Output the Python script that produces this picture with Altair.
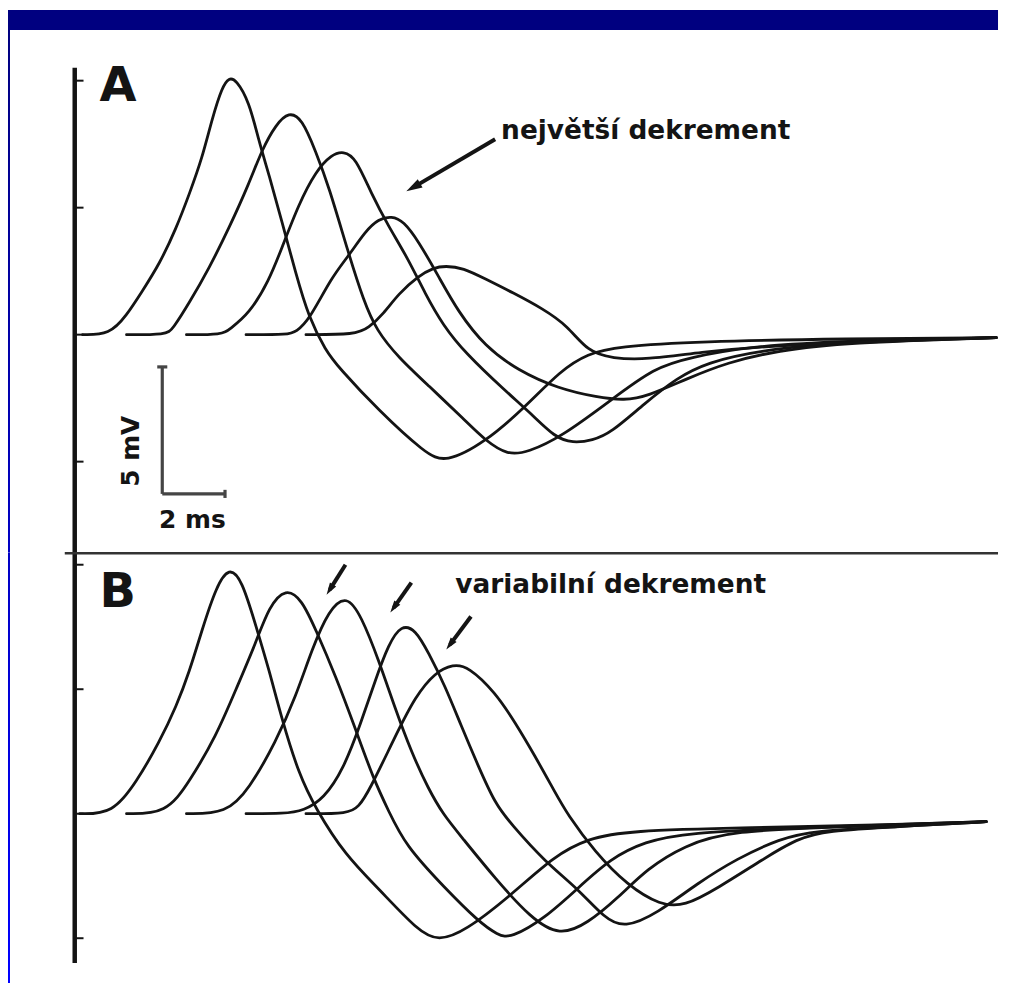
import altair as alt
import pandas as pd

# ---------------- data: time (ms) and membrane potential (mV) ----------------
# Panel A - "největší dekrement"
A1_t = [0.25, 1.11, 1.65, 2.16, 2.70, 3.24, 3.65, 4.06, 4.38, 4.70, 4.92, 5.14, 5.56, 5.87, 6.19, 6.60,
        7.05, 7.46, 8.00, 8.41, 9.68, 11.17, 11.81, 13.08, 14.35, 15.49, 16.35, 17.30, 19.84, 24.60, 29.37]
A1_v = [0, 0, 0.75, 1.73, 2.78, 4.20, 5.53, 6.94, 8.51, 9.76, 10.12, 10.04, 9.18, 7.61, 6.31, 4.47,
        2.39, 0.67, -0.63, -1.29, -2.98, -4.67, -5.06, -4.24, -2.86, -1.41, -0.75, -0.47, -0.27, -0.16, -0.12]

A2_t = [1.65, 2.92, 3.11, 3.65, 4.29, 4.92, 5.56, 5.97, 6.41, 6.83, 7.24, 7.68, 8.10, 8.73, 9.21,
        9.62, 10.32, 11.27, 12.44, 13.08, 13.81, 14.44, 15.49, 17.08, 18.48, 19.62, 21.43, 24.60, 29.37]
A2_v = [0, 0, 0.2, 1.25, 2.63, 4.20, 5.96, 7.29, 8.27, 8.78, 8.51, 7.22, 5.84, 3.18, 1.33,
        0.16, -0.90, -2.00, -3.37, -4.16, -4.75, -4.63, -4.04, -2.59, -1.29, -0.90, -0.47, -0.24, -0.12]

A3_t = [3.56, 4.70, 4.92, 5.56, 6.19, 6.60, 7.14, 7.68, 8.19, 8.57, 8.95, 9.46, 10.00, 10.63, 11.17,
        11.75, 12.44, 13.71, 14.54, 15.30, 15.87, 16.51, 17.08, 18.16, 19.21, 20.16, 21.75, 24.60, 29.37]
A3_v = [0, 0, 0.2, 0.82, 2.12, 3.41, 5.14, 6.43, 7.10, 7.22, 6.98, 5.53, 4.27, 2.98, 1.61,
        0.35, -0.71, -2.20, -3.10, -4.04, -4.27, -4.16, -3.88, -2.71, -1.69, -1.10, -0.63, -0.27, -0.12]

A4_t = [5.46, 6.83, 7.05, 7.46, 8.19, 8.73, 9.27, 9.68, 10.10, 10.48, 10.95, 11.59, 12.22, 13.08,
        14.13, 15.40, 16.67, 17.52, 18.25, 19.52, 20.79, 22.38, 24.60, 29.37]
A4_v = [0, 0, 0.12, 0.55, 2.27, 3.10, 4.08, 4.55, 4.67, 4.47, 3.69, 2.31, 0.90, -0.47,
        -1.41, -2.12, -2.47, -2.59, -2.43, -1.73, -1.10, -0.63, -0.31, -0.12]

A5_t = [7.37, 8.95, 9.37, 9.84, 10.32, 10.95, 11.43, 11.81, 12.38, 13.08, 13.97, 14.92, 15.71,
        16.35, 17.14, 18.25, 19.84, 22.38, 29.37]
A5_v = [0, 0, 0.27, 0.82, 1.61, 2.31, 2.63, 2.71, 2.63, 2.20, 1.65, 1.02, 0.35,
        -0.67, -0.94, -0.98, -0.71, -0.39, -0.12]

# Panel B - "variabilní dekrement"
B1_t = [0.16, 1.21, 1.97, 2.70, 3.24, 3.65, 4.06, 4.51, 4.92, 5.33, 5.78, 6.19, 6.60, 7.14, 7.68,
        8.63, 9.68, 10.95, 11.59, 12.44, 13.90, 15.30, 16.35, 17.62, 21.43, 26.19, 29.05]
B1_v = [0, 0, 1.28, 2.88, 4.32, 5.68, 7.40, 9.12, 9.92, 9.40, 7.52, 5.80, 3.80, 1.60, 0.20,
        -1.68, -3.00, -4.72, -5.12, -4.72, -3.28, -1.68, -1.00, -0.68, -0.56, -0.44, -0.32]

B2_t = [1.65, 2.92, 3.65, 4.51, 5.14, 5.78, 6.19, 6.73, 7.24, 7.68, 8.32, 8.95, 9.52, 10.00, 10.54,
        11.81, 12.86, 13.49, 13.90, 14.98, 16.03, 17.08, 18.16, 19.52, 23.02, 29.05]
B2_v = [0, 0, 1.28, 3.12, 5.00, 6.88, 8.32, 9.08, 8.60, 7.40, 5.52, 3.40, 1.40, 0.12, -1.28,
        -3.00, -4.32, -4.88, -5.00, -4.20, -3.00, -1.80, -1.12, -0.76, -0.56, -0.32]

B3_t = [3.56, 4.83, 5.56, 6.41, 7.05, 7.56, 8.10, 8.67, 9.14, 9.68, 10.22, 10.73, 11.27, 11.75, 12.32,
        13.40, 14.54, 15.46, 16.35, 17.30, 18.25, 19.43, 20.89, 24.60, 29.05]
B3_v = [0, 0, 1.00, 2.88, 4.72, 6.60, 8.20, 8.80, 7.92, 6.20, 4.20, 2.48, 1.00, -0.04, -0.92,
        -2.60, -4.20, -4.92, -4.40, -3.40, -2.20, -1.28, -0.68, -0.52, -0.32]

B4_t = [5.46, 6.67, 7.30, 7.94, 8.57, 9.11, 9.59, 10.00, 10.41, 10.86, 11.27, 11.81, 12.32, 12.86,
        13.40, 13.90, 14.98, 16.03, 16.89, 17.52, 18.57, 19.84, 21.11, 22.48, 23.56, 26.19, 29.05]
B4_v = [0, 0, 0.12, 0.60, 1.80, 3.60, 5.40, 6.80, 7.60, 7.40, 6.48, 5.12, 3.52, 1.92,
        0.40, -0.40, -1.92, -3.00, -4.20, -4.60, -4.00, -2.80, -1.80, -1.00, -0.68, -0.52, -0.32]

B5_t = [7.37, 8.73, 9.05, 9.37, 10.22, 10.86, 11.49, 12.06, 12.54, 13.40, 14.03, 14.67, 15.30, 15.71,
        16.57, 17.62, 18.67, 19.43, 20.48, 21.97, 23.02, 23.97, 26.19, 29.05]
B5_v = [0, 0, 0.28, 0.88, 3.12, 4.72, 5.68, 6.00, 5.92, 4.88, 3.68, 2.32, 0.88, -0.04,
        -1.52, -2.88, -3.68, -3.72, -3.00, -1.80, -1.00, -0.68, -0.52, -0.32]

# axis tick values (mV)
TICKS_MV = [10, 5, 0, -5]

# annotations
LABEL_A = "A"
LABEL_B = "B"
NOTE_A = "největší dekrement"
NOTE_B = "variabilní dekrement"
SCALE_V_LABEL = "5 mV"
SCALE_T_LABEL = "2 ms"
SCALE_MV = 5
SCALE_MS = 2

# ---------------- layout / style ----------------
NAVY = "#000080"
INK = "#141414"
FONT = "DejaVu Sans"

VIEW_W = 994          # page x 8 .. 1002
TOP_BAND = 20         # navy band at the top of panel A
LEFT_BAND = 2
A_H = 545             # page y 8 .. 553
B_H = 432             # page y 553 .. 985
PX_MS = 31.5
T_MIN = -67 / PX_MS   # axis (t = 0) at page x 75
T_MAX = T_MIN + VIEW_W / PX_MS
PX_MV_A = 25.5
VA_MAX = (334 - 8) / PX_MV_A
VA_MIN = VA_MAX - A_H / PX_MV_A
PX_MV_B = 25.0
VB_MAX = (815 - 553) / PX_MV_B
VB_MIN = VB_MAX - B_H / PX_MV_B

xs = alt.Scale(domain=[T_MIN, T_MAX], nice=False, zero=False)


def traces_df(d):
    rows = []
    for name, (ts, vs) in d.items():
        for i, (t, v) in enumerate(zip(ts, vs)):
            rows.append({"trace": name, "i": i, "t": t, "v": v})
    return pd.DataFrame(rows)


HEAD = "M0,-1L0.6,1L-0.6,1Z"


def grad(c1, c2):
    return alt.LinearGradient(
        gradient="linear", x1=0, x2=0, y1=0, y2=1,
        stops=[alt.GradientStop(color=c1, offset=0), alt.GradientStop(color=c2, offset=1)],
    )


def panel(traces, yscale, axis_top, axis_bot, height, texts, arrows, heads, head_size, extra, bands):
    X = lambda f: alt.X(f, type="quantitative", scale=xs, axis=None)
    Y = lambda f: alt.Y(f, type="quantitative", scale=yscale, axis=None)

    layers = bands()

    lines = alt.Chart(traces_df(traces)).mark_line(
        interpolate="basis", color=INK, strokeWidth=2.8, strokeCap="round"
    ).encode(x=X("t"), y=Y("v"), detail="trace:N", order="i:Q")

    axis_line = alt.Chart(pd.DataFrame({"t": [0], "v1": [axis_top], "v2": [axis_bot]})).mark_rule(
        color=INK, strokeWidth=4.5
    ).encode(x=X("t"), y=Y("v1"), y2=alt.Y2("v2"))

    ticks = alt.Chart(pd.DataFrame({"t0": [0] * len(TICKS_MV), "t1": [0.28] * len(TICKS_MV), "v": TICKS_MV})).mark_rule(
        color=INK, strokeWidth=2
    ).encode(x=X("t0"), x2=alt.X2("t1"), y=Y("v"))

    layers += [axis_line, ticks, lines]

    for tx in texts:
        d = pd.DataFrame({"t": [tx["t"]], "v": [tx["v"]], "label": [tx["label"]]})
        kw = dict(font=FONT, fontWeight="bold", fontSize=tx["size"], color=INK,
                  align=tx.get("align", "left"), baseline=tx.get("baseline", "alphabetic"))
        if "angle" in tx:
            kw["angle"] = tx["angle"]
        layers.append(alt.Chart(d).mark_text(**kw).encode(x=X("t"), y=Y("v"), text="label:N"))

    arr = alt.Chart(pd.DataFrame(arrows)).mark_line(color=INK, strokeWidth=4).encode(
        x=X("t"), y=Y("v"), detail="id:N"
    )
    hd = alt.Chart(pd.DataFrame(heads)).mark_point(
        shape=HEAD, filled=True, size=head_size, color=INK, opacity=1, strokeWidth=0
    ).encode(x=X("t"), y=Y("v"), angle=alt.Angle("angle:Q", scale=None))
    layers += [arr, hd]
    layers += extra(X, Y)

    return alt.layer(*layers).properties(width=VIEW_W, height=height)


# ---- panel A ----
ysA = alt.Scale(domain=[VA_MIN, VA_MAX], nice=False, zero=False)
textsA = [
    {"t": 0.79, "v": 9.18, "label": LABEL_A, "size": 48},
    {"t": 13.59, "v": 7.69, "label": NOTE_A, "size": 26.5},
    {"t": 1.78, "v": -4.59, "label": SCALE_V_LABEL, "size": 25, "angle": 270,
     "align": "center", "baseline": "middle"},
    {"t": 3.75, "v": -7.61, "label": SCALE_T_LABEL, "size": 25, "align": "center"},
]
arrowsA = {"id": ["a", "a"], "t": [13.40, 10.79], "v": [7.69, 5.80]}
headsA = {"t": [10.79], "v": [5.80], "angle": [240]}

SB_T0, SB_V0 = 2.79, -6.27


def scalebar(X, Y):
    d = pd.DataFrame({
        "t": [SB_T0, SB_T0, SB_T0 - 0.16, SB_T0 + SCALE_MS],
        "t2": [SB_T0, SB_T0 + SCALE_MS, SB_T0 + 0.16, SB_T0 + SCALE_MS],
        "v": [SB_V0, SB_V0, SB_V0 + SCALE_MV, SB_V0 + 0.16],
        "v2": [SB_V0 + SCALE_MV, SB_V0, SB_V0 + SCALE_MV, SB_V0 - 0.16],
    })
    return [alt.Chart(d).mark_rule(color="#454545", strokeWidth=3.2).encode(
        x=X("t"), x2=alt.X2("t2"), y=Y("v"), y2=alt.Y2("v2"))]


def bandsA():
    top = alt.Chart(pd.DataFrame({"k": [0]})).mark_rect(color=NAVY).encode(
        x=alt.value(0), x2=alt.value(VIEW_W), y=alt.value(0), y2=alt.value(TOP_BAND))
    left = alt.Chart(pd.DataFrame({"k": [0]})).mark_rect(color=grad(NAVY, "#0000c4")).encode(
        x=alt.value(0), x2=alt.value(LEFT_BAND), y=alt.value(TOP_BAND), y2=alt.value(A_H))
    return [top, left]


def bandsB():
    left = alt.Chart(pd.DataFrame({"k": [0]})).mark_rect(color=grad("#0000c4", "#0000ff")).encode(
        x=alt.value(0), x2=alt.value(LEFT_BAND), y=alt.value(0), y2=alt.value(B_H))
    return [left]


panelA = panel(
    {"A1": (A1_t, A1_v), "A2": (A2_t, A2_v), "A3": (A3_t, A3_v), "A4": (A4_t, A4_v), "A5": (A5_t, A5_v)},
    ysA, (334 - 66) / PX_MV_A, VA_MIN, A_H, textsA, arrowsA, headsA, 256, scalebar, bandsA,
)

# ---- panel B ----
ysB = alt.Scale(domain=[VB_MIN, VB_MAX], nice=False, zero=False)
textsB = [
    {"t": 0.79, "v": 8.32, "label": LABEL_B, "size": 48},
    {"t": 12.13, "v": 8.88, "label": NOTE_B, "size": 26.5},
]
arrowsB = {"id": ["b1", "b1", "b2", "b2", "b3", "b3"],
           "t": [8.63, 8.13, 10.73, 10.17, 12.63, 11.96],
           "v": [10.0, 9.0, 9.28, 8.28, 7.92, 6.79]}
headsB = {"t": [8.13, 10.17, 11.96], "v": [9.0, 8.28, 6.79], "angle": [212, 215, 217]}


def separator(X, Y):
    d = pd.DataFrame({"t": [-10 / PX_MS], "t2": [T_MAX], "v": [VB_MAX - 0.5 / PX_MV_B]})
    return [alt.Chart(d).mark_rule(color="#333333", strokeWidth=2.6).encode(
        x=X("t"), x2=alt.X2("t2"), y=Y("v"))]


panelB = panel(
    {"B1": (B1_t, B1_v), "B2": (B2_t, B2_v), "B3": (B3_t, B3_v), "B4": (B4_t, B4_v), "B5": (B5_t, B5_v)},
    ysB, VB_MAX, (815 - 965) / PX_MV_B, B_H, textsB, arrowsB, headsB, 150, separator, bandsB,
)

chart = alt.vconcat(panelA, panelB, spacing=0, bounds="flush").properties(
    background="white",
    padding=0,
).configure_view(stroke=None, fill="white")

chart.save("out.html", embed_options={"renderer": "svg", "actions": False})
